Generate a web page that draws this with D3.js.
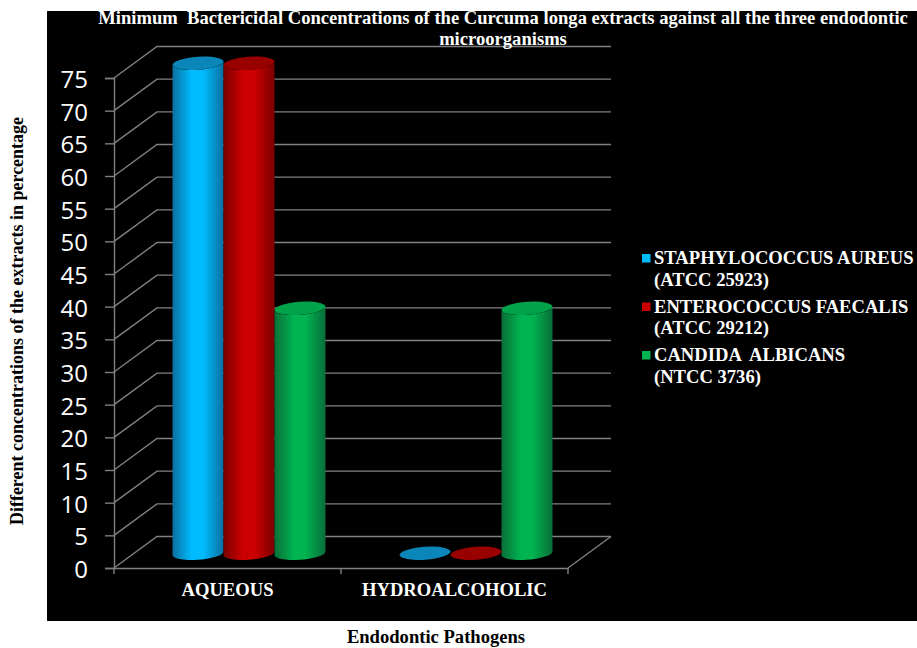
<!DOCTYPE html>
<html>
<head>
<meta charset="utf-8">
<script src="https://cdn.jsdelivr.net/npm/d3@7"></script>
<style>
html, body { margin: 0; padding: 0; background: #fff; }
svg { display: block; }
text { font-family: "Liberation Serif", serif; font-weight: bold; white-space: pre; }
</style>
</head>
<body>
<svg id="chart" width="917" height="648"></svg>
<script>
// Minimum bactericidal concentrations, as percentage of extract
const categories = ["AQUEOUS", "HYDROALCOHOLIC"];
const seriesNames = ["STAPHYLOCOCCUS AUREUS", "ENTEROCOCCUS FAECALIS", "CANDIDA  ALBICANS"];
const seriesStrains = ["(ATCC 25923)", "(ATCC 29212)", "(NTCC 3736)"];
const staphylococcus = [75, 0];
const enterococcus = [75, 0];
const candida = [37.5, 37.5];
const seriesValues = [staphylococcus, enterococcus, candida];
const yTicks = d3.range(0, 80, 5);
const titleLines = [
  "Minimum  Bactericidal Concentrations of the Curcuma longa extracts against all the three endodontic",
  "microorganisms"
];
const yTitle = "Different concentrations of the extracts in percentage";
const xTitle = "Endodontic Pathogens";

const palette = [
  { edge: "#0b6f9e", mid: "#00bcff", top: "#0a86b8" },
  { edge: "#7a0000", mid: "#cc0000", top: "#990000" },
  { edge: "#0a6e38", mid: "#00b451", top: "#00a349" }
];

const svg = d3.select("#chart");
const defs = svg.append("defs");

// Cylinder shading runs from dark edges to a bright core
palette.forEach((c, i) => {
  const g = defs.append("linearGradient").attr("id", "cyl" + i);
  [[0, c.edge], [0.38, c.mid], [0.6, c.mid], [1, c.edge]].forEach(([o, col]) =>
    g.append("stop").attr("offset", o).attr("stop-color", col));
});

// Plot background
svg.append("rect").attr("x", 47).attr("y", 11).attr("width", 870).attr("height", 610).attr("fill", "#000");

// Front plane scales; the back wall is the same plane shifted by the depth vector
const x = d3.scaleBand().domain(categories).range([114, 568]);
const y = d3.scaleLinear().domain([0, 75]).range([568, 78]);
const depth = { dx: 43, dy: -31.5 };
const inner = d3.scaleBand().domain(d3.range(3)).range([-76.5, 76.5]);
const gridColor = "#808080";

const grid = svg.append("g").attr("fill", "none").attr("stroke", gridColor).attr("stroke-width", 1.4);
grid.selectAll("path.wall").data(yTicks).join("path").attr("class", "wall")
  .attr("d", t => {
    const p = d3.path();
    p.moveTo(x.range()[0], y(t));
    p.lineTo(x.range()[0] + depth.dx, y(t) + depth.dy);
    p.lineTo(x.range()[1] + depth.dx, y(t) + depth.dy);
    return p.toString();
  });
// Floor edge on the right side
grid.append("path").attr("d", () => {
  const p = d3.path();
  p.moveTo(x.range()[1] + depth.dx, y(0) + depth.dy);
  p.lineTo(x.range()[1], y(0));
  return p.toString();
});

// Value axis
const yAxis = svg.append("g").attr("transform", `translate(${x.range()[0]},0)`)
  .call(d3.axisLeft(y).tickValues(yTicks).tickSize(9).tickPadding(17));
yAxis.selectAll("path,line").attr("stroke", gridColor).attr("stroke-width", 1.4);
yAxis.selectAll("text").attr("fill", "#fff").attr("dy", "0.4em")
  .style("font-family", "'Open Sans', sans-serif").style("font-weight", "400").style("font-size", "24px");

// Category axis with ticks on the band edges
const xAxis = svg.append("g").attr("transform", `translate(0,${y(0)})`)
  .call(d3.axisBottom(x).tickSize(0).tickPadding(15));
xAxis.select("path").attr("stroke", gridColor).attr("stroke-width", 1.4);
xAxis.selectAll("text").attr("fill", "#fff").style("font-size", "18.6px");
xAxis.selectAll("line.edge")
  .data([x.range()[0], x(categories[1]), x.range()[1]]).join("line").attr("class", "edge")
  .attr("x1", d => d).attr("x2", d => d).attr("y1", 0).attr("y2", 6)
  .attr("stroke", gridColor).attr("stroke-width", 1.4);

// Cylinders sit at mid depth on the floor
const rx = 25.5, ry = 6.5, tilt = 1.5, tiltDeg = -4;
const bars = [];
seriesValues.forEach((vals, s) => vals.forEach((v, c) => bars.push({ s, c, v })));
const cx = d => x(categories[d.c]) + x.bandwidth() / 2 + depth.dx / 2 + inner(d.s) + inner.bandwidth() / 2;
const floorY = y(0) + depth.dy / 2 + 1;
const topY = d => y(d.v) + depth.dy / 2 + 1;

const barGroup = svg.append("g");
barGroup.selectAll("path.body").data(bars.filter(d => d.v > 0)).join("path").attr("class", "body")
  .attr("fill", d => `url(#cyl${d.s})`)
  .attr("d", d => {
    const l = cx(d) - rx, r = cx(d) + rx;
    return `M${l},${topY(d) + tilt}L${l},${floorY + tilt}` +
      `A${rx},${ry} ${tiltDeg} 0 0 ${r},${floorY - tilt}` +
      `L${r},${topY(d) - tilt}` +
      `A${rx},${ry} ${tiltDeg} 0 1 ${l},${topY(d) + tilt}Z`;
  });
barGroup.selectAll("ellipse.cap").data(bars).join("ellipse").attr("class", "cap")
  .attr("rx", rx).attr("ry", ry)
  .attr("fill", d => palette[d.s].top)
  .attr("transform", d => `translate(${cx(d)},${topY(d)}) rotate(${tiltDeg})`);

// Title
svg.append("g").selectAll("text").data(titleLines).join("text")
  .attr("x", 503).attr("y", (d, i) => 24 + i * 21)
  .attr("text-anchor", "middle").attr("fill", "#fff").style("font-size", "18.6px")
  .text(d => d);

// Axis titles
svg.append("text").attr("transform", "translate(23,321) rotate(-90)")
  .attr("text-anchor", "middle").attr("fill", "#000").style("font-size", "18px").text(yTitle);
svg.append("text").attr("x", 436).attr("y", 643)
  .attr("text-anchor", "middle").attr("fill", "#000").style("font-size", "18.6px").text(xTitle);

// Legend
const legendY = d3.scalePoint().domain(d3.range(3)).range([264, 361]);
const legend = svg.append("g").selectAll("g").data(seriesNames).join("g")
  .attr("transform", (d, i) => `translate(642,${legendY(i)})`);
legend.append("rect").attr("x", 0).attr("y", -10).attr("width", 8.5).attr("height", 8.5)
  .attr("fill", (d, i) => palette[i].mid);
legend.append("text").attr("x", 12).attr("fill", "#fff").style("font-size", "18.6px").text(d => d);
legend.append("text").attr("x", 12).attr("y", 21.5).attr("fill", "#fff").style("font-size", "18.6px")
  .text((d, i) => seriesStrains[i]);
</script>
</body>
</html>
